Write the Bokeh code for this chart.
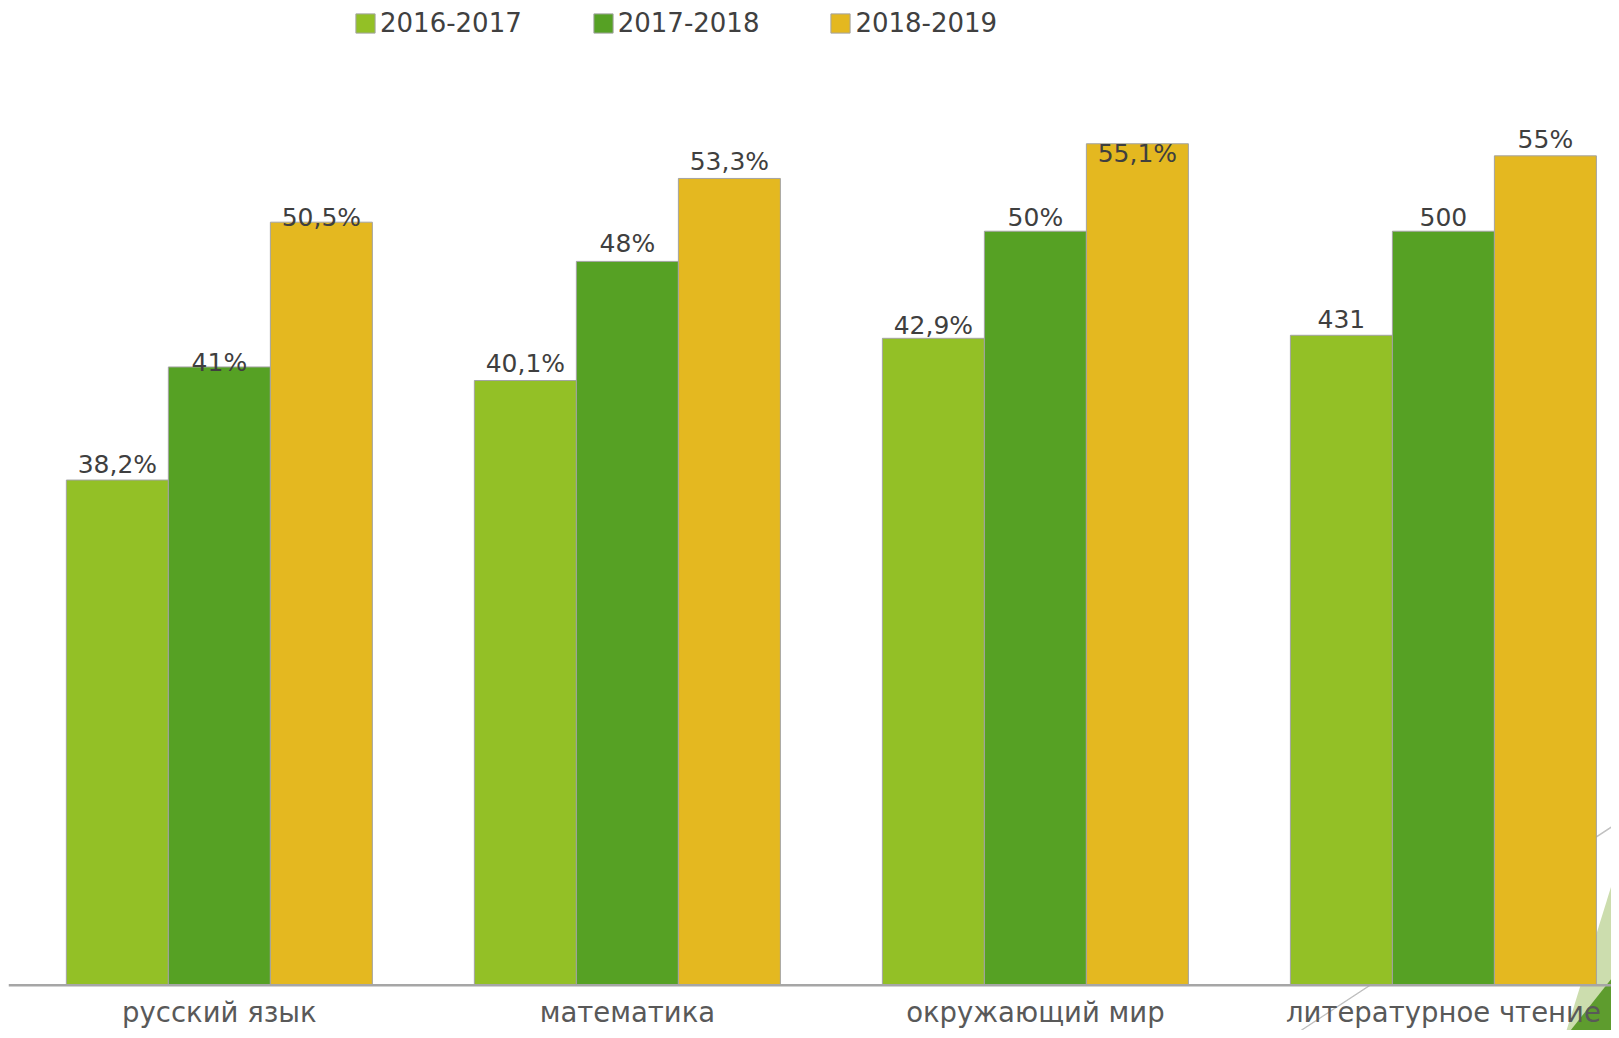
import numpy as np
from bokeh.plotting import figure
from bokeh.models import Range1d, Legend, LegendItem, ColumnDataSource, Span, PolyAnnotation
from bokeh.core.properties import value
from bokeh.embed import file_html
from bokeh.resources import INLINE

# ---- data ----
categories = ["русский язык", "математика", "окружающий мир", "литературное чтение"]
series = ["2016-2017", "2017-2018", "2018-2019"]
bars_2016_2017 = [33.5, 40.1, 42.9, 43.1]
bars_2017_2018 = [41.0, 48.0, 50.0, 50.0]
bars_2018_2019 = [50.6, 53.5, 55.8, 55.0]
labels_2016_2017 = ["38,2%", "40,1%", "42,9%", "431"]
labels_2017_2018 = ["41%", "48%", "50%", "500"]
labels_2018_2019 = ["50,5%", "53,3%", "55,1%", "55%"]

# ---- styling ----
colors = ["#93C026", "#56A124", "#E4B820"]
dodge = [-0.25, 0.0, 0.25]
bar_w = 0.25
# pixel gap between bar top and label baseline (negative = label overlaps bar)
label_gap = [[16, 17, 13, 16], [4, 18, 14, 14], [5, 17, -10, 16]]
FONT = "DejaVu Sans"

p = figure(width=1611, height=1030, output_backend="svg", toolbar_location=None,
           x_range=Range1d(-0.0168, 3.912), y_range=Range1d(-3.0, 65.3),
           min_border_left=8, min_border_right=0, min_border_top=0, min_border_bottom=0)
p.outline_line_color = None
p.xgrid.visible = False
p.ygrid.visible = False
p.xaxis.visible = False
p.yaxis.visible = False
p.background_fill_color = "white"
p.border_fill_color = "white"

# slide decoration in the bottom-right corner (drawn behind the chart)
p.add_layout(PolyAnnotation(xs=[1566, 1611, 1611], ys=[1030, 885, 1030],
                            xs_units="canvas", ys_units="canvas",
                            fill_color="#CCDDAE", fill_alpha=1.0, line_color=None, level="underlay"))
p.add_layout(PolyAnnotation(xs=[1570, 1611, 1611], ys=[1030, 978, 1030],
                            xs_units="canvas", ys_units="canvas",
                            fill_color="#5E9C2E", fill_alpha=1.0, line_color=None, level="underlay"))
p.add_layout(PolyAnnotation(xs=[1300, 1611, 1611, 1301], ys=[1030, 826, 827, 1030],
                            xs_units="canvas", ys_units="canvas",
                            fill_color="#B5B5B5", fill_alpha=0.8, line_color="#B5B5B5",
                            line_width=0.8, line_alpha=0.8, level="underlay"))

centers = np.arange(len(categories)) + 0.5
all_vals = [bars_2016_2017, bars_2017_2018, bars_2018_2019]
all_labs = [labels_2016_2017, labels_2017_2018, labels_2018_2019]
items = []
for i, name in enumerate(series):
    src = ColumnDataSource(dict(x=centers + dodge[i], top=all_vals[i], lab=all_labs[i],
                                yoff=[-g for g in label_gap[i]]))
    r = p.vbar(x="x", top="top", bottom=0, width=bar_w, source=src,
               fill_color=colors[i], line_color="#A3A3A3", line_width=1)
    p.text(x="x", y="top", text="lab", source=src, y_offset="yoff",
           text_align="center", text_baseline="alphabetic",
           text_font=value(FONT), text_font_size="25px", text_color="#3F3F3F")
    items.append(LegendItem(label=name, renderers=[r]))

# baseline (category axis line)
p.add_layout(Span(location=0, dimension="width", line_color="#A6A6A6", line_width=2.5))

# category labels under the baseline
cat_src = ColumnDataSource(dict(x=centers, y=[0] * len(categories), name=categories))
p.text(x="x", y="y", text="name", source=cat_src, y_offset=27,
       text_align="center", text_baseline="alphabetic",
       text_font=value(FONT), text_font_size="27.5px", text_color="#595959")

legend = Legend(items=items, orientation="horizontal", location=(345, 992),
                label_text_font=FONT, label_text_font_size="26px", label_text_color="#404040",
                glyph_width=24, glyph_height=24, label_standoff=3, spacing=69,
                padding=0, margin=0, border_line_color=None, background_fill_alpha=0)
p.add_layout(legend, "center")

open("out.html", "w").write(file_html(p, INLINE))
